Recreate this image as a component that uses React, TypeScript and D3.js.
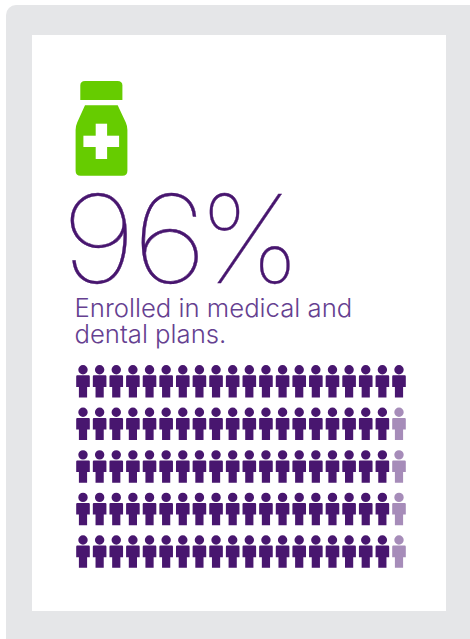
import React from "react";
import * as d3 from "d3";

// Enrolment figures behind the pictogram.
const headlineDigits = "96";
const headlineSign = "%";
const captionLines = ["Enrolled in medical and", "dental plans."];
const columnIds = d3.range(20);
const rowIds = d3.range(5);
// Number of enrolled people in each row of twenty.
const enrolledPerRow = [20, 19, 19, 19, 19];

const WIDTH = 470;
const HEIGHT = 639;
const DARK = "#48166f";
const LIGHT = "#a68cb9";
const GREEN = "#66cc00";
const FRAME = "#e5e6e8";

const xScale = d3.scalePoint<number>().domain(columnIds).range([83, 399]);
const yScale = d3.scalePoint<number>().domain(rowIds).range([369.7, 540]);

const headlineStyle = { fontFamily: "Inter, Roboto", fontWeight: 100, fontSize: 122 };

// One person: head circle plus a torso with narrower legs, origin at the head centre.
function personPath(): string {
  const p = d3.path();
  p.moveTo(4.7, 0);
  p.arc(0, 0, 4.7, 0, Math.PI * 2);
  p.closePath();
  p.moveTo(-5.7, 5.6);
  p.lineTo(5.7, 5.6);
  p.quadraticCurveTo(6.8, 5.6, 6.8, 6.7);
  p.lineTo(6.8, 17.2);
  p.lineTo(4.1, 17.2);
  p.lineTo(4.1, 27.8);
  p.lineTo(-4.1, 27.8);
  p.lineTo(-4.1, 17.2);
  p.lineTo(-6.8, 17.2);
  p.lineTo(-6.8, 6.7);
  p.quadraticCurveTo(-6.8, 5.6, -5.7, 5.6);
  p.closePath();
  return p.toString();
}

// Bottle cap: rounded on top, square along the bottom edge.
function bottleCap(): string {
  const p = d3.path();
  p.moveTo(80.3, 100);
  p.lineTo(80.3, 85.5);
  p.quadraticCurveTo(80.3, 81, 85, 81);
  p.lineTo(117.6, 81);
  p.quadraticCurveTo(122.4, 81, 122.4, 85.5);
  p.lineTo(122.4, 100);
  p.closePath();
  return p.toString();
}

// Bottle body with sloped shoulders; the cross is knocked out on top of it.
function bottleBody(): string {
  const p = d3.path();
  p.moveTo(85, 105.3);
  p.lineTo(117.7, 105.3);
  p.lineTo(125.8, 122.5);
  p.quadraticCurveTo(127.4, 126, 127.4, 130);
  p.lineTo(127.4, 170.7);
  p.quadraticCurveTo(127.4, 175.8, 122.4, 175.8);
  p.lineTo(80.6, 175.8);
  p.quadraticCurveTo(75.6, 175.8, 75.6, 170.7);
  p.lineTo(75.6, 130);
  p.quadraticCurveTo(75.6, 126, 77.2, 122.5);
  p.closePath();
  return p.toString();
}

export default function App() {
  const person = personPath();
  return (
    <svg
      width={WIDTH}
      height={HEIGHT}
      viewBox={`0 0 ${WIDTH} ${HEIGHT}`}
      style={{ position: "fixed", left: 0, top: 0, background: "#fff" }}
    >
      <rect x={6} y={5} width={480} height={650} rx={10} fill={FRAME} />
      <rect x={32} y={35} width={414} height={576} fill="#fff" />

      <path d={bottleCap()} fill={GREEN} />
      <path d={bottleBody()} fill={GREEN} />
      <rect x={95.7} y={123.7} width={11.4} height={35.3} fill="#fff" />
      <rect x={83.4} y={135.7} width={35.7} height={11.3} fill="#fff" />

      {/* The digits run a little wider than the installed thin face. */}
      <text
        x="0 65"
        y={0}
        transform="translate(61.3,282.5) scale(1.09,1)"
        fill={DARK}
        stroke={DARK}
        strokeWidth={0.35}
        style={headlineStyle}
      >
        {headlineDigits}
      </text>
      <text x={198} y={282.5} fill={DARK} stroke={DARK} strokeWidth={0.35} style={headlineStyle}>
        {headlineSign}
      </text>

      {captionLines.map((line, i) => (
        <text
          key={line}
          x={74.5}
          y={317 + i * 26}
          fill="#654090"
          style={{ fontFamily: "Inter, Roboto", fontWeight: 300, fontSize: 25.7 }}
        >
          {line}
        </text>
      ))}

      {rowIds.map((r) =>
        columnIds.map((c) => (
          <path
            key={`${r}-${c}`}
            d={person}
            transform={`translate(${xScale(c)},${yScale(r)})`}
            fill={c < enrolledPerRow[r] ? DARK : LIGHT}
          />
        ))
      )}
    </svg>
  );
}
